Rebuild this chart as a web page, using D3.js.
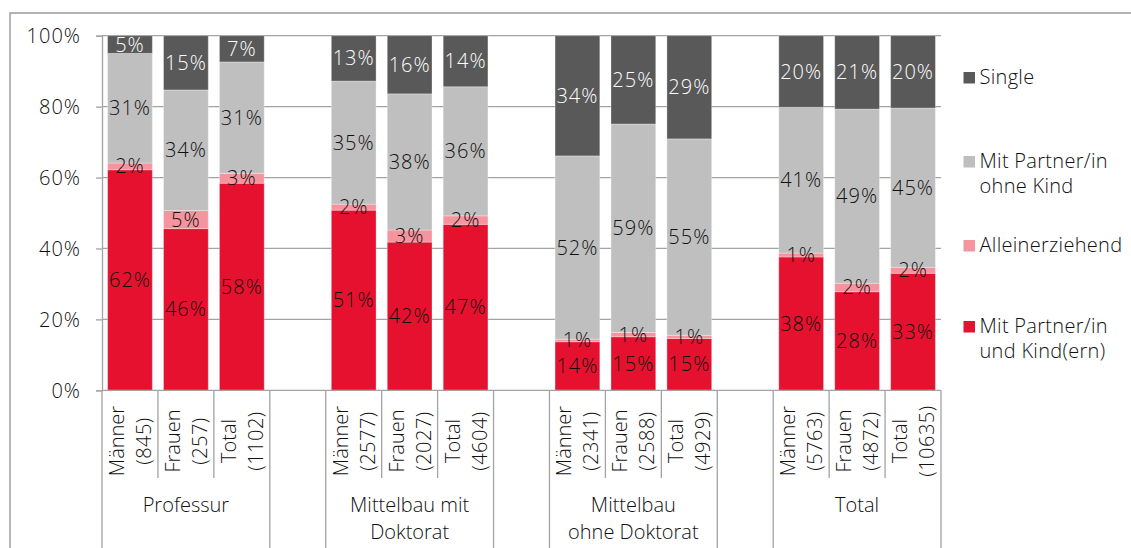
<!DOCTYPE html>
<html><head><meta charset="utf-8">
<script src="https://cdn.jsdelivr.net/npm/d3@7"></script>
<style>
html,body{margin:0;padding:0;background:#fff;}
svg{display:block;font-family:"Open Sans",sans-serif;font-weight:350;}
</style></head>
<body><svg id="chart" width="1131" height="548"></svg>
<script>
// ---- data ----
const groups = ["Professur", "Mittelbau mit\nDoktorat", "Mittelbau\nohne Doktorat", "Total"];
const subLabels = ["Männer", "Frauen", "Total"];
const counts = [845, 257, 1102, 2577, 2027, 4604, 2341, 2588, 4929, 5763, 4872, 10635];
const seriesNames = ["Mit Partner/in\nund Kind(ern)", "Alleinerziehend", "Mit Partner/in\nohne Kind", "Single"];
const partnerKind = [62.2, 45.6, 58.4, 50.8, 41.8, 46.8, 13.7, 15.1, 14.6, 37.6, 27.8, 33.0];
const alleinerziehend = [1.9, 5.1, 2.8, 1.7, 3.4, 2.4, 0.7, 1.2, 0.9, 1.1, 2.4, 1.7];
const partnerOhne = [30.9, 34.0, 31.4, 34.7, 38.4, 36.4, 51.7, 58.8, 55.4, 41.1, 49.1, 44.9];
const single = [5.0, 15.3, 7.4, 12.8, 16.4, 14.4, 33.9, 24.9, 29.1, 20.2, 20.7, 20.4];
const yTicks = [0, 20, 40, 60, 80, 100];

(function () {
const colors = ["#e6112e", "#f5949e", "#bfbfbf", "#595959"];
const labelColors = ["#111", "#111", "#111", "#fff"];
const seriesValues = [partnerKind, alleinerziehend, partnerOhne, single];

const slots = [];
const bars = [];
groups.forEach((g, gi) => {
  subLabels.forEach((s, si) => {
    const i = gi * 3 + si;
    const key = "b" + i;
    slots.push(key);
    const row = {key, group: gi, sub: s, count: counts[i]};
    seriesValues.forEach((arr, k) => row["s" + k] = arr[i]);
    bars.push(row);
  });
  if (gi < groups.length - 1) slots.push("gap" + gi);
});

const svg = d3.select("#chart");
const pLeft = 102, pRight = 941, pTop = 35.7, pBottom = 390.3;

const x = d3.scaleBand().domain(slots).range([pLeft, pRight]).paddingInner(0.2).paddingOuter(0.1);
const y = d3.scaleLinear().domain([0, 100]).range([pBottom, pTop]);

svg.append("path").attr("d", "M10,548V13H1131").attr("fill", "none").attr("stroke", "#999").attr("stroke-width", 1.4);

svg.append("g").selectAll("line").data(yTicks.filter(d => d > 0)).join("line")
  .attr("x1", pLeft).attr("x2", pRight).attr("y1", d => y(d)).attr("y2", d => y(d))
  .attr("stroke", "#a3a3a3").attr("stroke-width", 1.3);

const yAxis = d3.axisLeft(y).tickValues(yTicks).tickSize(6).tickPadding(15).tickFormat(d => d + "%");
const yg = svg.append("g").attr("transform", `translate(${pLeft},0)`).call(yAxis);
yg.select(".domain").attr("stroke", "#a3a3a3").attr("stroke-width", 1.3);
yg.selectAll(".tick line").attr("stroke", "#a3a3a3").attr("stroke-width", 1.3);
yg.selectAll(".tick text").attr("font-size", 20).attr("fill", "#111").attr("font-family", "Open Sans")
  .attr("font-weight", 350).attr("letter-spacing", 1).attr("dy", "0.35em");

const stack = d3.stack().keys(["s0", "s1", "s2", "s3"]);
const stacked = stack(bars);
const fmt = d3.format(".0f");
stacked.forEach((layer, k) => {
  svg.append("g").selectAll("rect").data(layer).join("rect")
    .attr("x", d => x(d.data.key)).attr("width", x.bandwidth())
    .attr("y", d => y(d[1])).attr("height", d => y(d[0]) - y(d[1]))
    .attr("fill", colors[k]).attr("stroke", "rgba(255,255,255,0.3)").attr("stroke-width", 1);
});
stacked.forEach((layer, k) => {
  svg.append("g").selectAll("text").data(layer).join("text")
    .attr("x", d => x(d.data.key) + x.bandwidth() / 2)
    .attr("y", d => (y(d[0]) + y(d[1])) / 2)
    .attr("dy", "0.35em").attr("text-anchor", "middle")
    .attr("font-size", 20).attr("letter-spacing", 1).attr("fill", labelColors[k])
    .text(d => fmt(d[1] - d[0]) + "%");
});

svg.append("line").attr("x1", pLeft).attr("x2", pRight).attr("y1", pBottom).attr("y2", pBottom)
  .attr("stroke", "#a3a3a3").attr("stroke-width", 1.3);

const step = x.step();
const sepColor = "#a3a3a3";
slots.forEach((s, i) => {
  const sx = pLeft + i * step;
  const isGroupEdge = (i === 0) || !slots[i].startsWith("b") || !slots[i - 1].startsWith("b");
  svg.append("line").attr("x1", sx).attr("x2", sx).attr("y1", pBottom).attr("y2", isGroupEdge ? 548 : 478)
    .attr("stroke", sepColor).attr("stroke-width", 1.3);
});
svg.append("line").attr("x1", pRight).attr("x2", pRight).attr("y1", pBottom).attr("y2", 548)
  .attr("stroke", sepColor).attr("stroke-width", 1.3);

const sub = svg.append("g").selectAll("text").data(bars).join("text")
  .attr("transform", d => `translate(${x(d.key) + x.bandwidth() / 2},441) rotate(-90)`)
  .attr("text-anchor", "middle").attr("font-size", 20).attr("fill", "#111");
sub.append("tspan").attr("x", 0).attr("y", -6).text(d => d.sub);
sub.append("tspan").attr("x", 0).attr("y", 21).attr("letter-spacing", 0.5).text(d => "(" + d.count + ")");

groups.forEach((g, gi) => {
  const first = x("b" + gi * 3), last = x("b" + (gi * 3 + 2));
  const cx = (first + last + x.bandwidth()) / 2;
  const t = svg.append("text").attr("text-anchor", "middle").attr("font-size", 20).attr("fill", "#111");
  g.split("\n").forEach((line, li) => {
    t.append("tspan").attr("x", cx).attr("y", 512 + li * 27).text(line);
  });
});

const legendY = [84, 168, 252, 333];
const legendOrder = [3, 2, 1, 0];
legendOrder.forEach((k, li) => {
  const by = legendY[li];
  svg.append("rect").attr("x", 963.5).attr("y", by - 12).attr("width", 11.5).attr("height", 11.5).attr("fill", colors[k]);
  const t = svg.append("text").attr("font-size", 20).attr("letter-spacing", 0.3).attr("fill", "#111");
  seriesNames[k].split("\n").forEach((line, j) => {
    t.append("tspan").attr("x", 979.5).attr("y", by + j * 25).text(line);
  });
});
})();
</script></body></html>
